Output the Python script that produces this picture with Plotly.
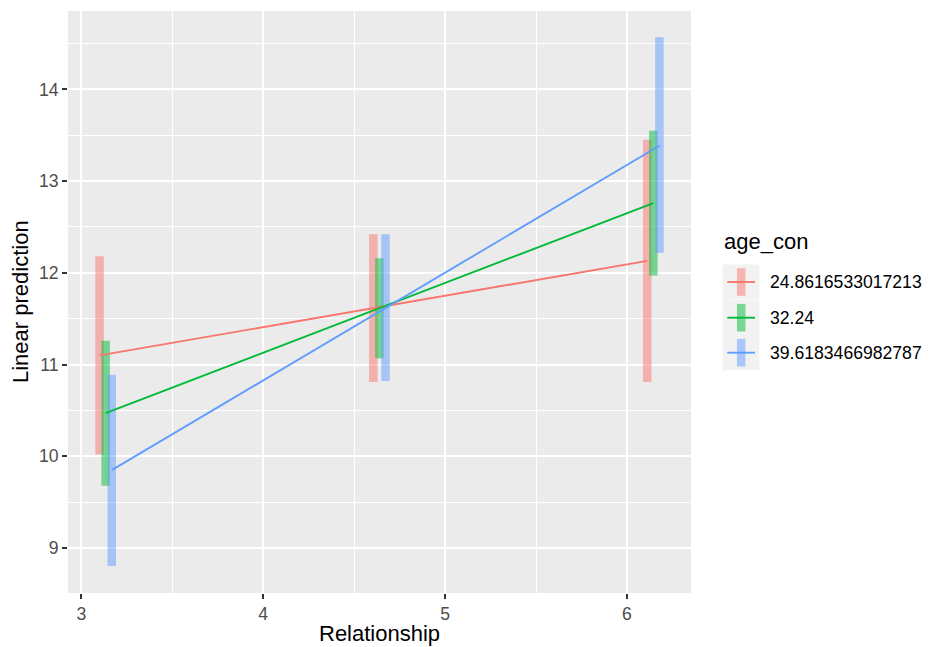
import plotly.graph_objects as go

# ---- data ----
relationship = [3.134, 4.639, 6.145]
age_con = ["24.8616533017213", "32.24", "39.6183466982787"]
pred = {
    "24.8616533017213": [11.10, 11.615, 12.13],
    "32.24": [10.47, 11.615, 12.76],
    "39.6183466982787": [9.85, 11.615, 13.385],
}
lower = {
    "24.8616533017213": [10.02, 10.81, 10.81],
    "32.24": [9.68, 11.07, 11.97],
    "39.6183466982787": [8.805, 10.82, 12.22],
}
upper = {
    "24.8616533017213": [12.18, 12.42, 13.45],
    "32.24": [11.26, 12.16, 13.55],
    "39.6183466982787": [10.89, 12.42, 14.567],
}
x_ticks = [3, 4, 5, 6]
y_ticks = [9, 10, 11, 12, 13, 14]

# ---- style ----
colors = ["#F8766D", "#00BA38", "#619CFF"]
alpha_colors = ["rgba(248,118,109,0.5)", "rgba(0,186,56,0.5)", "rgba(97,156,255,0.5)"]
dodge = [-0.0335, 0.0, 0.0335]
FONT = "Liberation Sans, Arial, Helvetica, sans-serif"

W, H = 930, 647
ML, MR, MT, MB = 68, 239, 11, 54
PW, PH = W - ML - MR, H - MT - MB

def px(xp):
    return (xp - ML) / PW

def py(yp):
    return (H - MB - yp) / PH

fig = go.Figure()

# error bars (line ranges)
for i, g in enumerate(age_con):
    for j, xv in enumerate(relationship):
        fig.add_trace(go.Scatter(
            x=[xv + dodge[i], xv + dodge[i]],
            y=[lower[g][j], upper[g][j]],
            mode="lines",
            line=dict(color=alpha_colors[i], width=8.5),
            showlegend=False, hoverinfo="skip",
        ))

# prediction lines
for i, g in enumerate(age_con):
    fig.add_trace(go.Scatter(
        x=[xv + dodge[i] for xv in relationship],
        y=pred[g],
        mode="lines",
        line=dict(color=colors[i], width=1.9),
        name=g, showlegend=False,
    ))

axis_common = dict(
    showgrid=True, gridcolor="white", gridwidth=2.1,
    zeroline=False, showline=False,
    ticks="outside", ticklen=5, tickwidth=2, tickcolor="#333333",
    tickfont=dict(family=FONT, size=17.6, color="#4D4D4D"),
)

fig.update_layout(
    width=W, height=H,
    margin=dict(l=ML, r=MR, t=MT, b=MB),
    paper_bgcolor="white", plot_bgcolor="#EBEBEB",
    showlegend=False,
    xaxis=dict(range=[2.927, 6.352], tickvals=x_ticks, ticktext=[str(v) for v in x_ticks],
               minor=dict(dtick=0.5, tick0=0.5, showgrid=True, gridcolor="white", gridwidth=1.05),
               **axis_common),
    yaxis=dict(range=[8.510, 14.854], tickvals=y_ticks, ticktext=[str(v) for v in y_ticks],
               minor=dict(dtick=0.5, tick0=0.5, showgrid=True, gridcolor="white", gridwidth=1.05),
               **axis_common),
)

annotations = [
    dict(text="Relationship", xref="paper", yref="paper", x=0.5, y=0, xanchor="center",
         yanchor="middle", yshift=-40, showarrow=False,
         font=dict(family=FONT, size=22, color="black")),
    dict(text="Linear prediction", xref="paper", yref="paper", x=0, y=0.5, xanchor="center",
         yanchor="middle", xshift=-48, textangle=-90, showarrow=False,
         font=dict(family=FONT, size=22, color="black")),
    dict(text="age_con", xref="paper", yref="paper", x=px(722), y=py(241), xanchor="left",
         yanchor="middle", showarrow=False, font=dict(family=FONT, size=22, color="black")),
]

shapes = []
key_centers = [282, 317.7, 352.7]
for i, g in enumerate(age_con):
    cy = key_centers[i]
    shapes.append(dict(type="rect", xref="paper", yref="paper",
                       x0=px(722.7), x1=px(759.3), y0=py(cy + 17.6), y1=py(cy - 17.6),
                       fillcolor="#F2F2F2", line=dict(width=0), layer="above"))
for i, g in enumerate(age_con):
    cy = key_centers[i]
    shapes.append(dict(type="line", xref="paper", yref="paper",
                       x0=px(741.2), x1=px(741.2), y0=py(cy + 13.8), y1=py(cy - 13.8),
                       line=dict(color=alpha_colors[i], width=8.5), layer="above"))
    shapes.append(dict(type="line", xref="paper", yref="paper",
                       x0=px(727.3), x1=px(755), y0=py(cy), y1=py(cy),
                       line=dict(color=colors[i], width=1.9), layer="above"))
    annotations.append(dict(text=g, xref="paper", yref="paper", x=px(768), y=py(cy),
                            xanchor="left", yanchor="middle", showarrow=False,
                            font=dict(family=FONT, size=17.6, color="black")))

fig.update_layout(annotations=annotations, shapes=shapes)

fig.write_html(
    "out.html",
    config={"displayModeBar": False},
    post_script="document.body.style.margin='0px';document.body.style.overflow='hidden';",
)
